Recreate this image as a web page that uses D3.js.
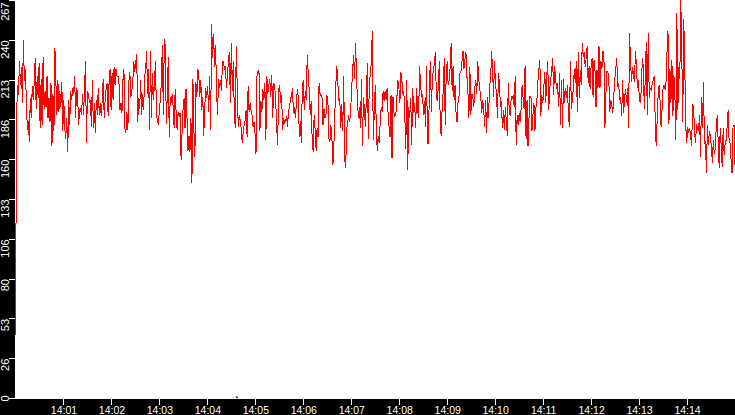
<!DOCTYPE html>
<html>
<head>
<meta charset="utf-8">
<script src="https://cdn.jsdelivr.net/npm/d3@7"></script>
<style>
html,body{margin:0;padding:0;background:#000;overflow:hidden}
svg{display:block}
</style>
</head>
<body>
<svg id="chart" width="735" height="415"></svg>
<script>
// ---- data ----
const startTime = "14:00:00";
const endTime = "14:15:00";
const yMax = 267;
const yTickLabels = ["0","26","53","80","106","133","160","186","213","240","267"];
const xTickLabels = ["14:01","14:02","14:03","14:04","14:05","14:06","14:07","14:08","14:09","14:10","14:11","14:12","14:13","14:14"];

const redValues = [
42,186,210,203,226,210,222,198,240,213,
221,200,180,186,172,201,188,209,200,212,
228,194,216,201,225,181,214,183,229,194,
206,195,216,188,201,185,211,169,204,179,
235,211,190,213,192,206,195,212,179,200,
181,174,188,165,200,183,206,200,208,204,
216,188,208,204,183,193,194,190,
204,190,206,226,171,206,204,198,200,
182,213,181,198,178,200,190,208,190,
198,189,200,214,188,201,208,211,
189,213,221,193,218,200,222,210,221,216,
// 14:02 - 14:04
216,211,193,198,191,213,221,181,178,192,
180,212,219,202,206,212,226,219,225,231,
185,201,194,213,190,204,193,216,219,233,
204,221,180,233,188,218,200,211,226,191,
186,183,194,200,212,237,190,241,236,184,
203,229,175,202,198,204,195,181,207,191,
180,192,189,191,160,178,194,201,181,207,
188,166,176,165,188,144,214,180,162,212,
202,221,216,202,213,193,202,176,195,208,
201,209,192,216,180,251,228,244,222,237,
206,190,214,208,213,206,226,
// 14:04 - 14:06
226,220,223,208,216,226,232,198,238,206,
226,192,181,236,208,182,190,186,181,171,
178,183,186,193,175,209,192,198,193,190,
182,185,178,164,216,219,220,179,199,192,
207,200,211,173,216,204,210,214,202,217,
188,211,209,200,181,170,207,210,198,203,
180,188,184,186,189,182,193,195,201,202,
208,191,195,188,198,207,201,175,186,171,
209,213,193,206,200,230,218,206,190,199,
173,165,190,180,166,181,175,211,204,203,
201,183,194,188,
// 14:06 - 14:08
190,203,198,174,172,183,175,156,169,191,
210,223,212,200,201,181,197,179,216,160,
154,180,185,190,185,193,206,220,230,214,
238,217,198,188,195,181,214,169,202,194,
182,202,225,174,213,216,226,246,173,191,
210,185,166,176,171,185,195,192,206,199,
206,200,208,191,182,175,203,161,202,191,
189,191,202,213,208,198,219,213,204,206,
189,167,213,153,195,188,201,170,208,191,
198,181,208,193,188,223,210,202,204,190,
199,182,223,171,
// 14:08 - 14:10
171,212,226,192,217,219,225,232,202,199,
209,226,179,176,197,206,228,183,217,226,
210,213,222,238,206,223,200,210,191,185,
198,203,218,219,226,233,221,227,232,216,
206,188,222,190,204,202,195,208,213,204,
226,214,207,203,191,200,194,182,200,178,
202,188,211,212,233,221,202,226,211,204,
188,218,211,195,199,181,193,180,195,185,
176,211,191,190,202,201,203,195,216,170,
190,183,191,185,194,210,201,194,223,174,
200,169,188,202,
// 14:10 - 14:12
202,179,190,198,179,195,200,212,220,227,
189,203,198,208,219,198,216,226,193,208,
213,220,228,203,223,214,207,211,195,218,
183,213,181,214,198,208,201,210,189,182,
226,194,200,208,221,211,226,192,232,201,
220,210,238,229,232,222,228,236,211,223,
207,223,228,202,227,219,195,220,208,236,
208,226,221,233,230,181,203,219,219,213,
192,200,196,191,203,213,221,228,209,211,
200,202,189,213,191,202,207,198,208,181,
245,226,212,222,
// 14:12 - 14:15
217,212,233,223,208,213,200,198,208,228,
222,194,217,239,190,245,201,208,206,211,
213,216,188,169,186,203,210,199,182,194,
208,210,207,212,232,246,184,221,198,227,
189,217,204,173,258,193,222,214,267,233,
185,254,226,183,171,182,178,181,175,169,
197,195,178,171,184,181,179,190,162,202,
181,212,171,172,151,183,170,179,176,169,
158,173,164,167,182,190,171,154,181,169,
155,181,163,171,173,182,193,173,171,160,
151,182,183,156
];

const blueTimes = ["14:04:36","14:04:38"];
const blueValues = [1,0];

// ---- layout ----
const W = 735, H = 415;
const plot = {left: 15, top: 0, right: 735, bottom: 399};

const parse = d3.timeParse("%H:%M:%S");
const parseHM = d3.timeParse("%H:%M");
const t0 = parse(startTime), t1 = parse(endTime);

const x = d3.scaleTime().domain([t0, t1]).range([plot.left + 0.5, plot.right]);
const y = d3.scaleLinear().domain([0, yMax]).range([plot.bottom - 1, plot.top]);

const svg = d3.select("#chart");

svg.append("rect").attr("x",0).attr("y",0).attr("width",W).attr("height",H).attr("fill","#000");
svg.append("rect")
  .attr("x", plot.left).attr("y", plot.top)
  .attr("width", plot.right - plot.left).attr("height", plot.bottom - plot.top)
  .attr("fill", "#fff");

// times for samples (evenly spaced samples across the window)
const step = (t1 - t0) / (redValues.length - 1);
const redTimes = redValues.map((_, i) => new Date(+t0 + i * step));

const line = d3.line()
  .x((d, i) => x(redTimes[i]))
  .y(d => y(d));

svg.append("path")
  .datum(redValues)
  .attr("fill","none")
  .attr("stroke","#ff0000")
  .attr("stroke-width",1)
  .attr("shape-rendering","crispEdges")
  .attr("d", line);

// blue series
const blueData = blueTimes.map((t, i) => ({t: parse(t), v: blueValues[i]}));
svg.append("path")
  .datum(blueData)
  .attr("fill","none")
  .attr("stroke","#0000ff")
  .attr("stroke-width",1.6)
  .attr("d", d3.line().x(d => x(d.t)).y(d => y(d.v)));

// ---- y axis ----
const yTickVals = yTickLabels.map((_, i) => i * yMax / (yTickLabels.length - 1));
const yAxis = d3.axisLeft(y)
  .tickValues(yTickVals)
  .tickFormat((d, i) => yTickLabels[i])
  .tickSize(6)
  .tickPadding(0);

const gy = svg.append("g")
  .attr("transform", `translate(${plot.left},0)`)
  .call(yAxis);
gy.select(".domain").remove();
gy.selectAll(".tick line").attr("stroke","#fff").attr("shape-rendering","crispEdges");
gy.selectAll(".tick text")
  .attr("fill","#fff")
  .attr("font-family","'Liberation Sans Narrow','Arial Narrow','Liberation Sans',sans-serif")
  .attr("font-size","11px")
  .attr("transform","rotate(-90)")
  .attr("x", (d, i) => i === 0 ? 0 : (i === yTickLabels.length - 1 ? -2 : 0))
  .attr("y", -6.5)
  .attr("dy", 0)
  .attr("text-anchor", (d, i) => i === 0 ? "middle" : "end");

// ---- x axis ----
const xTickVals = xTickLabels.map(s => parseHM(s));
const xAxis = d3.axisBottom(x)
  .tickValues(xTickVals)
  .tickFormat((d, i) => xTickLabels[i])
  .tickSize(6)
  .tickPadding(2);

const gx = svg.append("g")
  .attr("transform", `translate(0,${plot.bottom})`)
  .call(xAxis);
gx.select(".domain").remove();
gx.selectAll(".tick line").attr("stroke","#fff").attr("shape-rendering","crispEdges");
gx.selectAll(".tick text")
  .attr("fill","#fff")
  .attr("font-family","'Liberation Sans',Arial,sans-serif")
  .attr("font-size","10.5px");
</script>
</body>
</html>
